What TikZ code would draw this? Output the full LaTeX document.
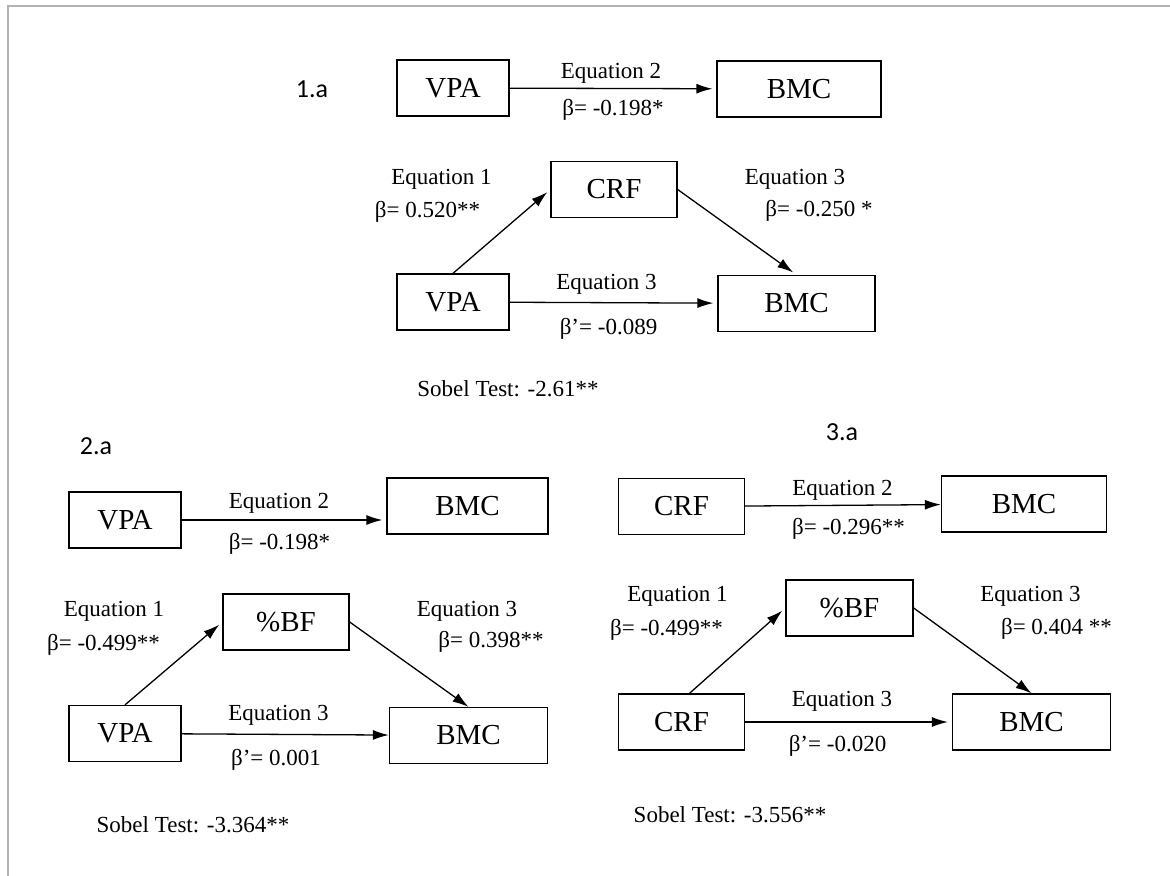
\documentclass[tikz,border=0pt]{standalone}
\usepackage{fontspec}
\setmainfont{Liberation Serif}
\newfontfamily\tagfont{Carlito}
\usetikzlibrary{arrows.meta}

\tikzset{
  box/.style = {draw, line width=.65pt, inner sep=0pt, minimum height=28pt,
    minimum width=#1, font=\fontsize{14.5}{17}\selectfont},
  box/.default = 56pt,
  lbl/.style = {inner sep=0pt, font=\fontsize{11.5}{13}\selectfont},
  tag/.style = {inner sep=0pt, font=\tagfont\fontsize{13}{15}\selectfont},
  arr/.style = {line width=.65pt, -{Latex[length=8pt,width=5pt]}, shorten >=2pt},
}

\begin{document}
\begin{tikzpicture}[x=0.5pt, y=-0.5pt]
\useasboundingbox (0,0) rectangle (1170,876);
\draw[black!30, line width=1pt] (7.5,876) -- (7.5,6.5) -- (1170,6.5);

% 1.a
\node[tag] (t1) at (312,89) {1.a};
\node[box] (v1) at (453,88) {VPA};
\node[box=82pt] (b1) at (799,89) {BMC};
\node[box=63pt] (c1) at (614,189.5) {CRF};
\node[box] (v2) at (453,302) {VPA};
\node[box=78.5pt] (b2) at (796.5,303.5) {BMC};
\draw[arr] (v1) -- (b1);
\draw[arr] (v2.north) -- (c1.west);
\draw[arr] (c1.east) -- (b2.north);
\draw[arr] (v2) -- (b2);
\node[lbl] (e12) at (611,73) {Equation 2};
\node[lbl] (k12) at (613,110) {β= -0.198*};
\node[lbl] (e11) at (441.5,179) {Equation 1};
\node[lbl] (k11) at (427.5,211.5) {β= 0.520**};
\node[lbl] (e13) at (795,179) {Equation 3};
\node[lbl] (k13) at (819,211) {β= -0.250 *};
\node[lbl] (e13d) at (606.5,284) {Equation 3};
\node[lbl] (k13d) at (608.5,328.5) {β’= -0.089};
\node[lbl] (s1) at (508,388.5) {Sobel Test: -2.61**};

% 2.a
\node[tag] (t2) at (96,446) {2.a};
\node[box] (v3) at (125,520) {VPA};
\node[box=80.5pt] (b3) at (467.5,506) {BMC};
\node[box=63pt] (f2) at (286,622) {\%BF};
\node[box] (v4) at (125,733.5) {VPA};
\node[box=79pt] (b4) at (468.5,735.5) {BMC};
\draw[arr] (v3) -- (v3 -| b3.west);
\draw[arr] (v4.north) -- (f2.west);
\draw[arr, shorten >=0pt] (f2.east) -- (b4.north);
\draw[arr, shorten >=0pt] (v4) -- (b4);
\node[lbl] (e22) at (279,503.5) {Equation 2};
\node[lbl] (k22) at (279.5,543.5) {β= -0.198*};
\node[lbl] (e21) at (114,611) {Equation 1};
\node[lbl] (k21) at (103.5,645) {β= -0.499**};
\node[lbl] (e23) at (467,611) {Equation 3};
\node[lbl] (k23) at (491,641.5) {β= 0.398**};
\node[lbl] (e23d) at (278.5,715.5) {Equation 3};
\node[lbl] (k23d) at (276,760) {β’= 0.001};
\node[lbl] (s2) at (193,825) {Sobel Test: -3.364**};

% 3.a
\node[tag] (t3) at (842,432) {3.a};
\node[box=63pt] (c5) at (681.5,506.5) {CRF};
\node[box=82.5pt] (b5) at (1024,504) {BMC};
\node[box=63.5pt] (f3) at (849.5,608) {\%BF};
\node[box=63pt] (c6) at (681.5,722) {CRF};
\node[box=79pt] (b6) at (1031.5,722) {BMC};
\draw[arr, shorten >=0pt] (c5) -- (b5);
\draw[arr] ([xshift=4pt]c6.north) -- (f3.west);
\draw[arr, shorten >=0pt] (f3.east) -- (b6.north);
\draw[arr] (c6) -- (b6);
\node[lbl] (e32) at (842.5,490) {Equation 2};
\node[lbl] (k32) at (848.5,528.5) {β= -0.296**};
\node[lbl] (e31) at (677.5,596.5) {Equation 1};
\node[lbl] (k31) at (666.5,630) {β= -0.499**};
\node[lbl] (e33) at (1030.5,596.5) {Equation 3};
\node[lbl] (k33) at (1056.5,628.5) {β= 0.404 **};
\node[lbl] (e33d) at (842,701.5) {Equation 3};
\node[lbl] (k33d) at (837.5,746) {β’= -0.020};
\node[lbl] (s3) at (730,815) {Sobel Test: -3.556**};
\end{tikzpicture}
\end{document}
